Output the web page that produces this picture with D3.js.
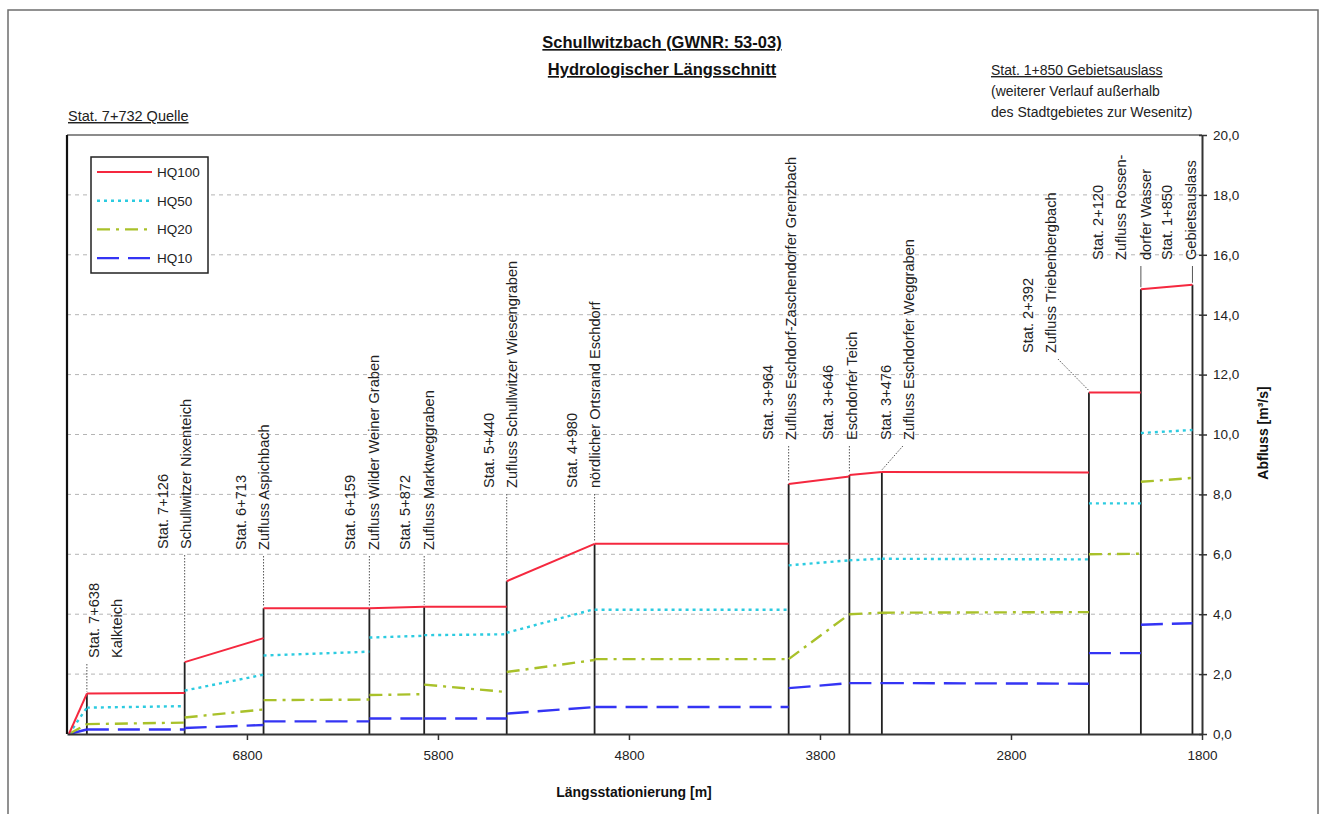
<!DOCTYPE html>
<html>
<head>
<meta charset="utf-8">
<script src="https://cdn.jsdelivr.net/npm/d3@7"></script>
<style>
  html, body { margin: 0; padding: 0; background: #fff; }
  svg { display: block; font-family: "Liberation Sans", Arial, sans-serif; }
</style>
</head>
<body>
<svg id="chart" width="1324" height="814"></svg>
<script>
// ---------------- DATA ----------------
const stations = [7732, 7638, 7126, 6713, 6159, 5872, 5440, 4980, 3964, 3646, 3476, 2392, 2120, 1850];

// values at start / end of each reach (between stations[i] and stations[i+1])
const hq100Start = [0, 1.35, 2.40, 4.20, 4.20, 4.25, 5.10, 6.35, 8.35, 8.65, 8.75, 11.40, 14.85];
const hq100End   = [1.35, 1.37, 3.20, 4.20, 4.25, 4.25, 6.35, 6.35, 8.60, 8.75, 8.73, 11.40, 15.00];
const hq50Start  = [0, 0.88, 1.45, 2.62, 3.22, 3.30, 3.38, 4.15, 5.63, 5.80, 5.85, 7.70, 10.05];
const hq50End    = [0.88, 0.93, 1.98, 2.75, 3.28, 3.33, 4.17, 4.15, 5.80, 5.85, 5.83, 7.70, 10.15];
const hq20Start  = [0, 0.33, 0.55, 1.13, 1.30, 1.65, 2.07, 2.50, 2.50, 4.00, 4.05, 6.00, 8.42];
const hq20End    = [0.33, 0.38, 0.82, 1.15, 1.33, 1.40, 2.47, 2.50, 4.00, 4.05, 4.07, 6.02, 8.55];
const hq10Start  = [0, 0.15, 0.20, 0.42, 0.52, 0.52, 0.68, 0.90, 1.53, 1.70, 1.70, 2.70, 3.65];
const hq10End    = [0.15, 0.15, 0.30, 0.42, 0.52, 0.52, 0.90, 0.90, 1.70, 1.70, 1.68, 2.70, 3.70];

const seriesNames = ["HQ100", "HQ50", "HQ20", "HQ10"];

const stationLabels = [
  ["Stat. 7+638", "Kalkteich"],
  ["Stat. 7+126", "Schullwitzer Nixenteich"],
  ["Stat. 6+713", "Zufluss Aspichbach"],
  ["Stat. 6+159", "Zufluss Wilder Weiner Graben"],
  ["Stat. 5+872", "Zufluss Marktweggraben"],
  ["Stat. 5+440", "Zufluss Schullwitzer Wiesengraben"],
  ["Stat. 4+980", "nördlicher Ortsrand Eschdorf"],
  ["Stat. 3+964", "Zufluss Eschdorf-Zaschendorfer Grenzbach"],
  ["Stat. 3+646", "Eschdorfer Teich"],
  ["Stat. 3+476", "Zufluss Eschdorfer Weggraben"],
  ["Stat. 2+392", "Zufluss Triebenbergbach"],
  ["Stat. 2+120", "Zufluss Rossen-", "dorfer Wasser"],
  ["Stat. 1+850", "Gebietsauslass"]
];

const xTicks = [6800, 5800, 4800, 3800, 2800, 1800];
const yTicks = [0, 2, 4, 6, 8, 10, 12, 14, 16, 18, 20];

const titleLines = ["Schullwitzbach (GWNR: 53-03)", "Hydrologischer Längsschnitt"];
const sourceNote = "Stat. 7+732 Quelle";
const outletNote = ["Stat. 1+850 Gebietsauslass", "(weiterer Verlauf außerhalb", "des Stadtgebietes zur Wesenitz)"];
const xTitle = "Längsstationierung [m]";
const yTitle = "Abfluss [m³/s]";

// ---------------- LAYOUT ----------------
const plot = { left: 67, right: 1202, top: 135, bottom: 734 };

// label layout: dx of first line baseline from station x, bottom y of text, leader top dx
const labelLayout = [
  { dx: 12,  bottom: 658, ldx: 0 },
  { dx: -17, bottom: 549, ldx: 0 },
  { dx: -18, bottom: 550, ldx: 0 },
  { dx: -14, bottom: 550, ldx: 0 },
  { dx: -14, bottom: 550, ldx: 0 },
  { dx: -13, bottom: 488, ldx: 0 },
  { dx: -18, bottom: 488, ldx: 0 },
  { dx: -16, bottom: 440, ldx: 0 },
  { dx: -16, bottom: 440, ldx: 0 },
  { dx: 9,   bottom: 440, ldx: 21 },
  { dx: -56, bottom: 353, ldx: -31 },
  { dx: -38, bottom: 260, ldx: 0 },
  { dx: -20, bottom: 260, ldx: 0 }
];
const lineGap = 23.5;

const styles = {
  HQ100: { color: "#f5283f", width: 2,   dash: null },
  HQ50:  { color: "#2ccbe0", width: 2.4, dash: "3,4" },
  HQ20:  { color: "#a9c12a", width: 2.4, dash: "13,6,3,6" },
  HQ10:  { color: "#3434f4", width: 2.4, dash: "22,9" }
};

// ---------------- DRAW ----------------
const svg = d3.select("#chart");
const x = d3.scaleLinear().domain([7742, 1800]).range([plot.left, plot.right]);
const y = d3.scaleLinear().domain([0, 20]).range([plot.bottom, plot.top]);

// outer frame
svg.append("rect").attr("x", 8).attr("y", 10).attr("width", 1310).attr("height", 812)
  .attr("fill", "none").attr("stroke", "#6e6e6e").attr("stroke-width", 1.5);

// titles
titleLines.forEach((t, i) => {
  svg.append("text").attr("x", 662).attr("y", 48 + i * 27)
    .attr("text-anchor", "middle").attr("font-size", 16.5).attr("font-weight", "bold")
    .attr("text-decoration", "underline").attr("fill", "#111").text(t);
});
svg.append("text").attr("x", 68).attr("y", 121).attr("font-size", 14.5)
  .attr("text-decoration", "underline").attr("fill", "#222").text(sourceNote);
outletNote.forEach((t, i) => {
  svg.append("text").attr("x", 991).attr("y", 75 + i * 21).attr("font-size", 14)
    .attr("text-decoration", i === 0 ? "underline" : null).attr("fill", "#222").text(t);
});

// grid
svg.append("g").selectAll("line").data(yTicks.filter(v => v > 0 && v < 20)).join("line")
  .attr("x1", plot.left).attr("x2", plot.right)
  .attr("y1", d => y(d)).attr("y2", d => y(d))
  .attr("stroke", "#b4b4b4").attr("stroke-width", 1).attr("stroke-dasharray", "4,4");

// top border
svg.append("line").attr("x1", plot.left).attr("x2", plot.right).attr("y1", plot.top).attr("y2", plot.top)
  .attr("stroke", "#666").attr("stroke-width", 1.5);
// left border
svg.append("line").attr("x1", plot.left).attr("x2", plot.left).attr("y1", plot.top).attr("y2", plot.bottom)
  .attr("stroke", "#111").attr("stroke-width", 2.2);

// station vertical lines + leaders + labels
const gSt = svg.append("g");
for (let i = 1; i < stations.length; i++) {
  const sx = x(stations[i]);
  const left = hq100End[i - 1];
  const right = i < hq100Start.length ? hq100Start[i] : left;
  const top = Math.max(left, right);
  gSt.append("line").attr("x1", sx).attr("x2", sx).attr("y1", y(0)).attr("y2", y(top))
    .attr("stroke", "#222").attr("stroke-width", 1.8);
  const L = labelLayout[i - 1];
  gSt.append("line")
    .attr("x1", sx + L.ldx).attr("y1", L.bottom + 6)
    .attr("x2", sx).attr("y2", y(top) - 2)
    .attr("stroke", "#555").attr("stroke-width", 1)
    .attr("stroke-dasharray", i >= 12 ? null : "1.5,1.5");
  stationLabels[i - 1].forEach((t, k) => {
    const bx = sx + L.dx + k * lineGap + (i === 12 && k === 2 ? 1.5 : 0);
    gSt.append("text").attr("transform", `translate(${bx},${L.bottom}) rotate(-90)`)
      .attr("font-size", 14.6).attr("fill", "#222").text(t);
  });
}

// series
const seriesData = {
  HQ100: [hq100Start, hq100End],
  HQ50: [hq50Start, hq50End],
  HQ20: [hq20Start, hq20End],
  HQ10: [hq10Start, hq10End]
};
const line = d3.line().x(d => x(d[0])).y(d => y(d[1]));
seriesNames.slice().reverse().forEach(name => {
  const [s, e] = seriesData[name];
  const segs = s.map((v, i) => [[stations[i], v], [stations[i + 1], e[i]]]);
  const st = styles[name];
  svg.append("g").selectAll("path").data(segs).join("path")
    .attr("d", line).attr("fill", "none")
    .attr("stroke", st.color).attr("stroke-width", st.width)
    .attr("stroke-dasharray", st.dash);
});

// x axis
const xAxis = d3.axisBottom(x).tickValues(xTicks).tickSize(6).tickSizeOuter(0).tickFormat(d3.format("d"));
const gx = svg.append("g").attr("transform", `translate(0,${plot.bottom})`).call(xAxis);
gx.select(".domain").attr("stroke", "#333").attr("stroke-width", 2);
gx.selectAll(".tick line").attr("stroke", "#333").attr("stroke-width", 1.5);
gx.selectAll(".tick text").attr("font-size", 13.5).attr("fill", "#222").attr("dy", "1.25em")
  .attr("font-family", "'Liberation Sans', Arial, sans-serif");

// y axis (right)
const fmt = d3.format(".1f");
const yAxis = d3.axisRight(y).tickValues(yTicks).tickSize(5).tickSizeOuter(0)
  .tickFormat(d => fmt(d).replace(".", ","));
const gy = svg.append("g").attr("transform", `translate(${plot.right},0)`).call(yAxis);
gy.select(".domain").attr("stroke", "#333").attr("stroke-width", 2);
gy.selectAll(".tick line").attr("stroke", "#333").attr("stroke-width", 1.5).attr("x1", -3);
gy.selectAll(".tick text").attr("font-size", 13.5).attr("fill", "#222").attr("x", 11)
  .attr("font-family", "'Liberation Sans', Arial, sans-serif");

// axis titles
svg.append("text").attr("x", 634).attr("y", 797).attr("text-anchor", "middle")
  .attr("font-size", 14).attr("font-weight", "bold").attr("fill", "#111").text(xTitle);
svg.append("text").attr("transform", `translate(1268,433) rotate(-90)`).attr("text-anchor", "middle")
  .attr("font-size", 14).attr("font-weight", "bold").attr("fill", "#111").text(yTitle);

// legend
const lg = svg.append("g");
lg.append("rect").attr("x", 91).attr("y", 157).attr("width", 117).attr("height", 116)
  .attr("fill", "#fff").attr("stroke", "#222").attr("stroke-width", 1.5);
seriesNames.forEach((name, i) => {
  const ly = 172 + i * 28.7;
  const st = styles[name];
  lg.append("line").attr("x1", 97).attr("x2", 152).attr("y1", ly).attr("y2", ly)
    .attr("stroke", st.color).attr("stroke-width", st.width).attr("stroke-dasharray", st.dash);
  lg.append("text").attr("x", 157).attr("y", ly).attr("dy", "0.36em")
    .attr("font-size", 13.5).attr("fill", "#222").text(name);
});
</script>
</body>
</html>
